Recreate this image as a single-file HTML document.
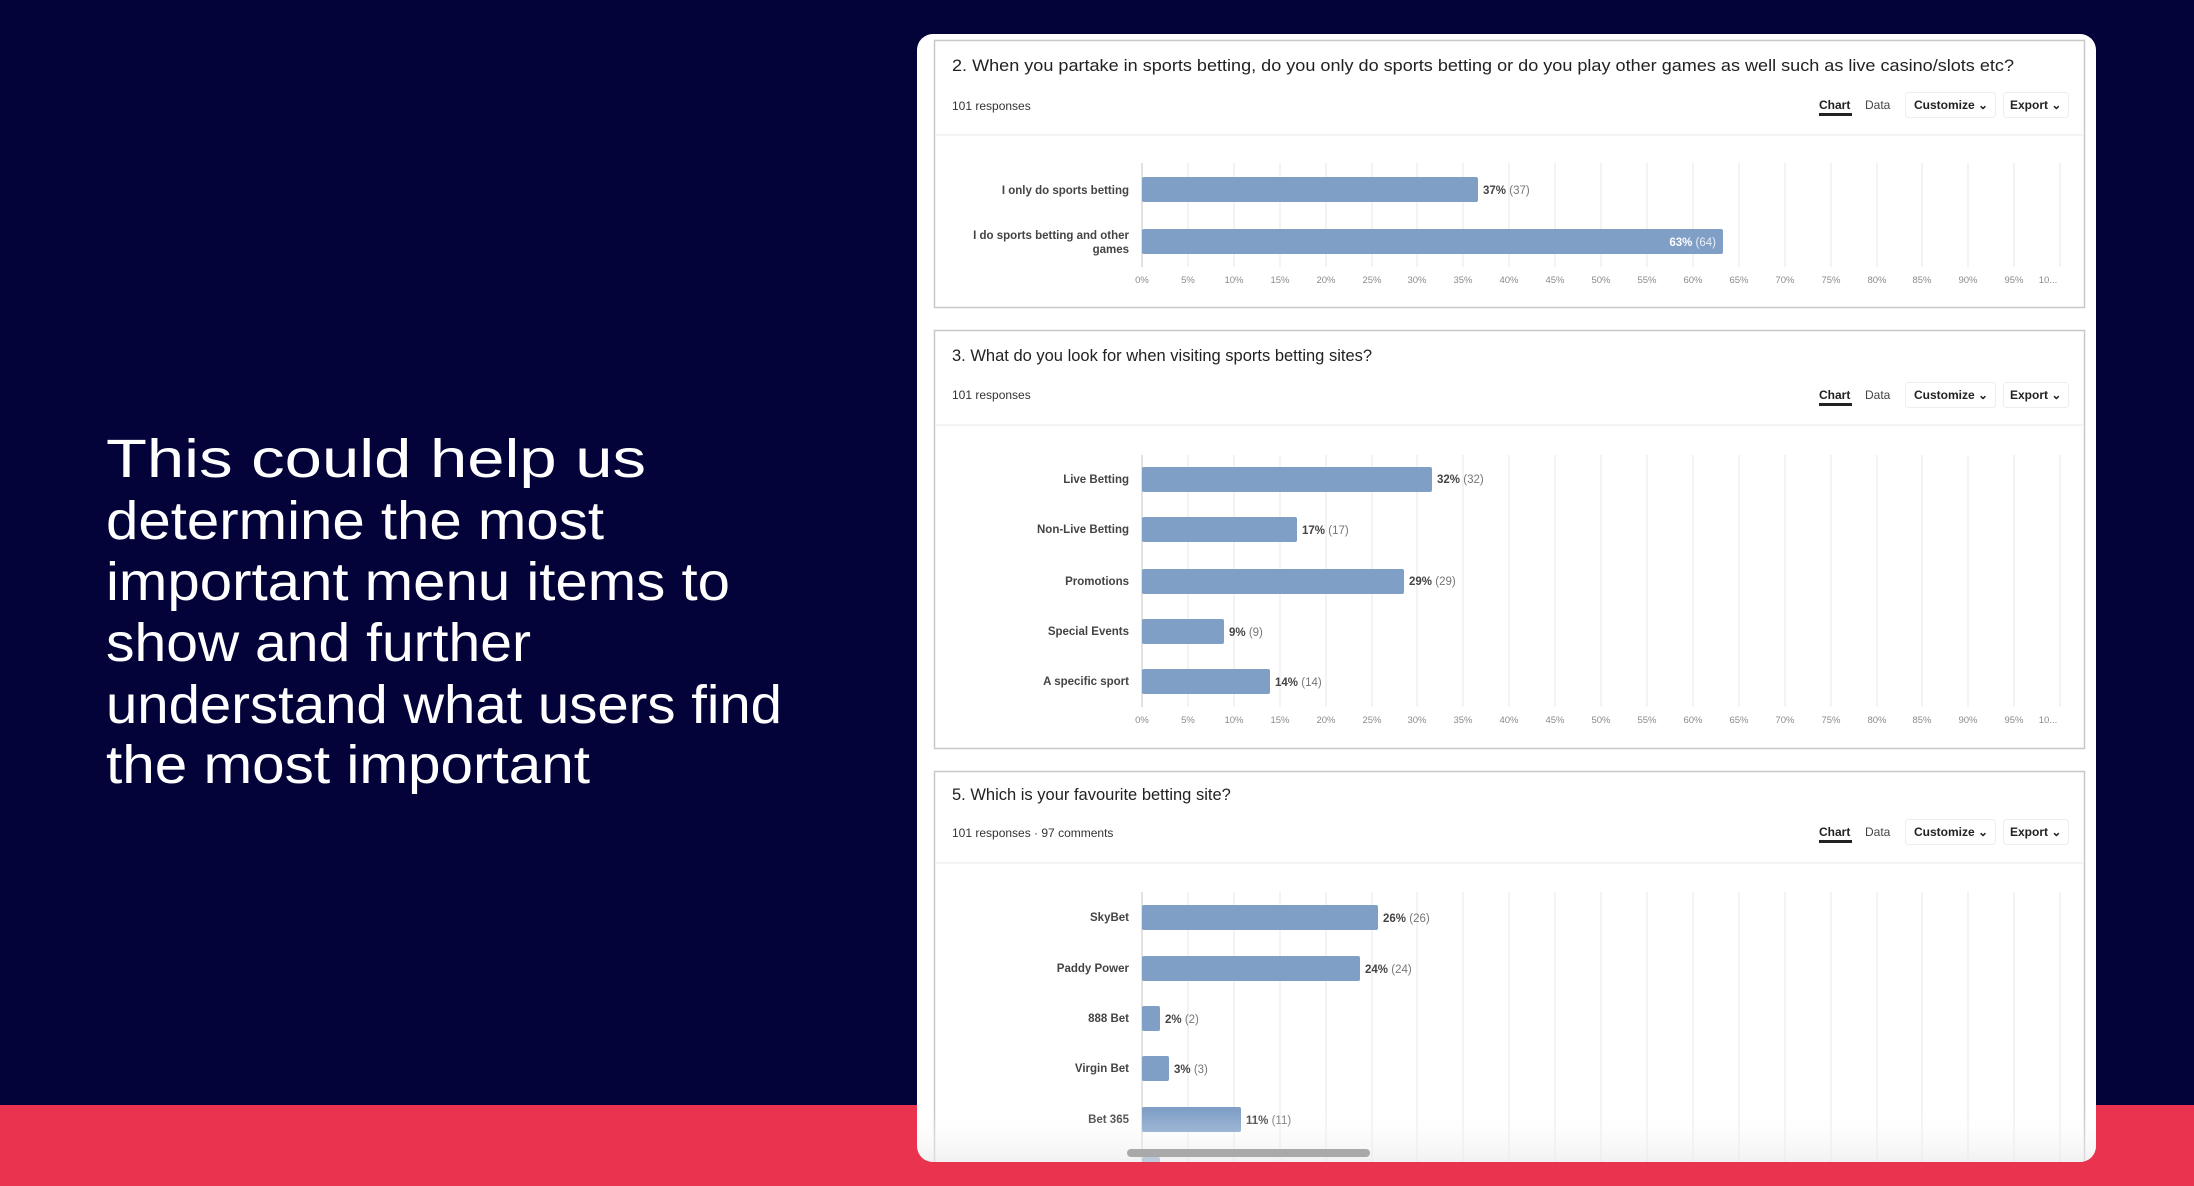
<!DOCTYPE html>
<html><head><meta charset="utf-8"><style>
html,body{margin:0;padding:0;background:#03033a;}
svg{display:block;font-family:"Liberation Sans",sans-serif;}
</style></head><body>
<svg width="2194" height="1186" viewBox="0 0 2194 1186" xmlns="http://www.w3.org/2000/svg">
<defs>
<clipPath id="card"><rect x="917" y="34" width="1179" height="1128" rx="16"/></clipPath>
<linearGradient id="fade" x1="0" y1="0" x2="0" y2="1"><stop offset="0" stop-color="#fff" stop-opacity="0"/><stop offset="1" stop-color="#e8e8e8"/></linearGradient>
</defs>
<rect width="2194" height="1186" fill="#03033a"/>
<rect x="0" y="1105" width="2194" height="81" fill="#e9334f"/>
<g fill="#fff" font-size="54" font-weight="300">
<text x="106" y="477" textLength="540" lengthAdjust="spacingAndGlyphs">This could help us</text>
<text x="106" y="539" textLength="498" lengthAdjust="spacingAndGlyphs">determine the most</text>
<text x="106" y="600" textLength="624" lengthAdjust="spacingAndGlyphs">important menu items to</text>
<text x="106" y="661" textLength="425" lengthAdjust="spacingAndGlyphs">show and further</text>
<text x="106" y="723" textLength="676" lengthAdjust="spacingAndGlyphs">understand what users find</text>
<text x="106" y="783" textLength="484" lengthAdjust="spacingAndGlyphs">the most important</text>
</g>
<g clip-path="url(#card)">
<rect x="917" y="34" width="1179" height="1128" fill="#fff"/>
<!-- Box 1 -->
<rect x="934.5" y="40.5" width="1150" height="267" fill="#fff" stroke="#c8c8c8" stroke-width="1.5"/>
<text x="952" y="71" font-size="16.5" fill="#222" textLength="1062" lengthAdjust="spacingAndGlyphs">2. When you partake in sports betting, do you only do sports betting or do you play other games as well such as live casino/slots etc?</text>
<text x="952" y="110" font-size="12" fill="#333">101 responses</text>
<line x1="935" y1="135" x2="2084" y2="135" stroke="#f0f0f0" stroke-width="1.5"/>
<!-- Box 2 -->
<rect x="934.5" y="330.5" width="1150" height="418" fill="#fff" stroke="#c8c8c8" stroke-width="1.5"/>
<text x="952" y="361" font-size="16.5" fill="#222">3. What do you look for when visiting sports betting sites?</text>
<text x="952" y="399" font-size="12" fill="#333">101 responses</text>
<line x1="935" y1="425" x2="2084" y2="425" stroke="#f0f0f0" stroke-width="1.5"/>
<!-- Box 3 -->
<rect x="934.5" y="771.5" width="1150" height="420" fill="#fff" stroke="#c8c8c8" stroke-width="1.5"/>
<text x="952" y="800" font-size="16.5" fill="#222">5. Which is your favourite betting site?</text>
<text x="952" y="837" font-size="12" fill="#333">101 responses · 97 comments</text>
<line x1="935" y1="863" x2="2084" y2="863" stroke="#f0f0f0" stroke-width="1.5"/>

<!-- toolbars -->
<g font-size="12" font-weight="bold" fill="#222">
<g transform="translate(0,0)">
<text x="1819" y="109">Chart</text><rect x="1819" y="113" width="33" height="3" fill="#222"/>
<text x="1865" y="109" font-weight="normal" fill="#444">Data</text>
<rect x="1905.5" y="92.5" width="90" height="25" rx="3" fill="#fff" stroke="#eee"/>
<text x="1914" y="109">Customize ⌄</text>
<rect x="2003.5" y="92.5" width="65" height="25" rx="3" fill="#fff" stroke="#eee"/>
<text x="2010" y="109">Export ⌄</text>
</g>
<g transform="translate(0,290)">
<text x="1819" y="109">Chart</text><rect x="1819" y="113" width="33" height="3" fill="#222"/>
<text x="1865" y="109" font-weight="normal" fill="#444">Data</text>
<rect x="1905.5" y="92.5" width="90" height="25" rx="3" fill="#fff" stroke="#eee"/>
<text x="1914" y="109">Customize ⌄</text>
<rect x="2003.5" y="92.5" width="65" height="25" rx="3" fill="#fff" stroke="#eee"/>
<text x="2010" y="109">Export ⌄</text>
</g>
<g transform="translate(0,727)">
<text x="1819" y="109">Chart</text><rect x="1819" y="113" width="33" height="3" fill="#222"/>
<text x="1865" y="109" font-weight="normal" fill="#444">Data</text>
<rect x="1905.5" y="92.5" width="90" height="25" rx="3" fill="#fff" stroke="#eee"/>
<text x="1914" y="109">Customize ⌄</text>
<rect x="2003.5" y="92.5" width="65" height="25" rx="3" fill="#fff" stroke="#eee"/>
<text x="2010" y="109">Export ⌄</text>
</g>
</g>

<!-- gridlines -->
<g stroke="#ebebeb" stroke-width="1.2">
<g id="g1">
<line x1="1188" y1="163" x2="1188" y2="267"/><line x1="1234" y1="163" x2="1234" y2="267"/><line x1="1280" y1="163" x2="1280" y2="267"/><line x1="1326" y1="163" x2="1326" y2="267"/><line x1="1372" y1="163" x2="1372" y2="267"/><line x1="1417" y1="163" x2="1417" y2="267"/><line x1="1463" y1="163" x2="1463" y2="267"/><line x1="1509" y1="163" x2="1509" y2="267"/><line x1="1555" y1="163" x2="1555" y2="267"/><line x1="1601" y1="163" x2="1601" y2="267"/><line x1="1647" y1="163" x2="1647" y2="267"/><line x1="1693" y1="163" x2="1693" y2="267"/><line x1="1739" y1="163" x2="1739" y2="267"/><line x1="1785" y1="163" x2="1785" y2="267"/><line x1="1831" y1="163" x2="1831" y2="267"/><line x1="1877" y1="163" x2="1877" y2="267"/><line x1="1922" y1="163" x2="1922" y2="267"/><line x1="1968" y1="163" x2="1968" y2="267"/><line x1="2014" y1="163" x2="2014" y2="267"/><line x1="2060" y1="163" x2="2060" y2="267"/>
</g>
<use href="#g1" transform="translate(0,455) scale(1,2.42) translate(0,-163)"/>
<use href="#g1" transform="translate(0,892) scale(1,3) translate(0,-163)"/>
</g>
<g stroke="#cfcfcf" stroke-width="1.2">
<line x1="1142" y1="163" x2="1142" y2="267"/>
<line x1="1142" y1="455" x2="1142" y2="707"/>
<line x1="1142" y1="892" x2="1142" y2="1170"/>
</g>

<!-- tick labels -->
<g font-size="9.5" fill="#8a8a8a" text-anchor="middle" id="t1">
<text x="1142" y="283">0%</text><text x="1188" y="283">5%</text><text x="1234" y="283">10%</text><text x="1280" y="283">15%</text><text x="1326" y="283">20%</text><text x="1372" y="283">25%</text><text x="1417" y="283">30%</text><text x="1463" y="283">35%</text><text x="1509" y="283">40%</text><text x="1555" y="283">45%</text><text x="1601" y="283">50%</text><text x="1647" y="283">55%</text><text x="1693" y="283">60%</text><text x="1739" y="283">65%</text><text x="1785" y="283">70%</text><text x="1831" y="283">75%</text><text x="1877" y="283">80%</text><text x="1922" y="283">85%</text><text x="1968" y="283">90%</text><text x="2014" y="283">95%</text><text x="2048" y="283">10...</text>
</g>
<use href="#t1" transform="translate(0,440)"/>

<!-- bars -->
<g fill="#7f9fc6">
<rect x="1142" y="177" width="336" height="25" rx="2"/>
<rect x="1142" y="229" width="581" height="25" rx="2"/>
<rect x="1142" y="467" width="290" height="25" rx="2"/>
<rect x="1142" y="517" width="155" height="25" rx="2"/>
<rect x="1142" y="569" width="262" height="25" rx="2"/>
<rect x="1142" y="619" width="82" height="25" rx="2"/>
<rect x="1142" y="669" width="128" height="25" rx="2"/>
<rect x="1142" y="905" width="236" height="25" rx="2"/>
<rect x="1142" y="956" width="218" height="25" rx="2"/>
<rect x="1142" y="1006" width="18" height="25" rx="2"/>
<rect x="1142" y="1056" width="27" height="25" rx="2"/>
<rect x="1142" y="1107" width="99" height="25" rx="2"/>
<rect x="1142" y="1157" width="18" height="25" rx="2"/>
</g>

<!-- category labels -->
<g font-size="11.5" font-weight="bold" fill="#444" text-anchor="end">
<text x="1129" y="194">I only do sports betting</text>
<text x="1129" y="239">I do sports betting and other</text>
<text x="1129" y="253">games</text>
<text x="1129" y="483">Live Betting</text>
<text x="1129" y="533">Non-Live Betting</text>
<text x="1129" y="585">Promotions</text>
<text x="1129" y="635">Special Events</text>
<text x="1129" y="685">A specific sport</text>
<text x="1129" y="921">SkyBet</text>
<text x="1129" y="972">Paddy Power</text>
<text x="1129" y="1022">888 Bet</text>
<text x="1129" y="1072">Virgin Bet</text>
<text x="1129" y="1123">Bet 365</text>
</g>

<!-- value labels -->
<g font-size="11.5" fill="#444">
<text x="1483" y="194"><tspan font-weight="bold">37%</tspan> <tspan fill="#777">(37)</tspan></text>
<text x="1716" y="246" text-anchor="end" fill="#fff"><tspan font-weight="bold">63%</tspan> <tspan fill="#e8eef6">(64)</tspan></text>
<text x="1437" y="483"><tspan font-weight="bold">32%</tspan> <tspan fill="#777">(32)</tspan></text>
<text x="1302" y="534"><tspan font-weight="bold">17%</tspan> <tspan fill="#777">(17)</tspan></text>
<text x="1409" y="585"><tspan font-weight="bold">29%</tspan> <tspan fill="#777">(29)</tspan></text>
<text x="1229" y="636"><tspan font-weight="bold">9%</tspan> <tspan fill="#777">(9)</tspan></text>
<text x="1275" y="686"><tspan font-weight="bold">14%</tspan> <tspan fill="#777">(14)</tspan></text>
<text x="1383" y="922"><tspan font-weight="bold">26%</tspan> <tspan fill="#777">(26)</tspan></text>
<text x="1365" y="973"><tspan font-weight="bold">24%</tspan> <tspan fill="#777">(24)</tspan></text>
<text x="1165" y="1023"><tspan font-weight="bold">2%</tspan> <tspan fill="#777">(2)</tspan></text>
<text x="1174" y="1073"><tspan font-weight="bold">3%</tspan> <tspan fill="#777">(3)</tspan></text>
<text x="1246" y="1124"><tspan font-weight="bold">11%</tspan> <tspan fill="#777">(11)</tspan></text>
</g>
<rect x="917" y="1110" width="1179" height="52" fill="url(#fade)" opacity="0.6"/>
<rect x="1127" y="1149" width="243" height="8" rx="4" fill="#a9a9a9"/>
</g>
</svg>
</body></html>
